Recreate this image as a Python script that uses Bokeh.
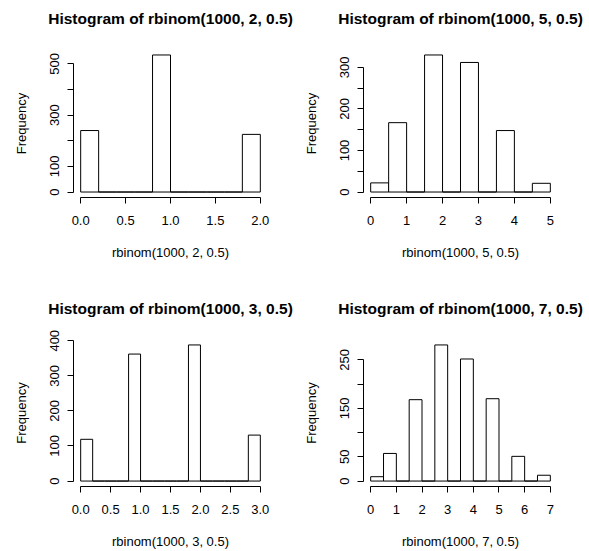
from bokeh.plotting import figure
from bokeh.layouts import gridplot
from bokeh.models import Range1d, FixedTicker, Title
from bokeh.embed import file_html
from bokeh.resources import INLINE

FONT = "Liberation Sans"

# ---- data: histogram bin edges and counts ----
edges_n2 = [0.0, 0.2, 0.4, 0.6, 0.8, 1.0, 1.2, 1.4, 1.6, 1.8, 2.0]
counts_n2 = [240, 0, 0, 0, 535, 0, 0, 0, 0, 225]

edges_n5 = [0.0, 0.5, 1.0, 1.5, 2.0, 2.5, 3.0, 3.5, 4.0, 4.5, 5.0]
counts_n5 = [22, 167, 0, 330, 0, 312, 0, 148, 0, 21]

edges_n3 = [0.0, 0.2, 0.4, 0.6, 0.8, 1.0, 1.2, 1.4, 1.6, 1.8, 2.0,
            2.2, 2.4, 2.6, 2.8, 3.0]
counts_n3 = [119, 0, 0, 0, 362, 0, 0, 0, 0, 388, 0, 0, 0, 0, 131]

edges_n7 = [0.0, 0.5, 1.0, 1.5, 2.0, 2.5, 3.0, 3.5, 4.0, 4.5, 5.0,
            5.5, 6.0, 6.5, 7.0]
counts_n7 = [9, 57, 0, 168, 0, 281, 0, 252, 0, 170, 0, 51, 0, 12]

# ---- tick values and labels ----
xticks_n2 = [0.0, 0.5, 1.0, 1.5, 2.0]
xlabels_n2 = ["0.0", "0.5", "1.0", "1.5", "2.0"]
yticks_n2 = [0, 100, 200, 300, 400, 500]
ylabels_n2 = ["0", "100", "", "300", "", "500"]

xticks_n5 = [0, 1, 2, 3, 4, 5]
xlabels_n5 = ["0", "1", "2", "3", "4", "5"]
yticks_n5 = [0, 50, 100, 150, 200, 250, 300]
ylabels_n5 = ["0", "", "100", "", "200", "", "300"]

xticks_n3 = [0.0, 0.5, 1.0, 1.5, 2.0, 2.5, 3.0]
xlabels_n3 = ["0.0", "0.5", "1.0", "1.5", "2.0", "2.5", "3.0"]
yticks_n3 = [0, 100, 200, 300, 400]
ylabels_n3 = ["0", "100", "200", "300", "400"]

xticks_n7 = [0, 1, 2, 3, 4, 5, 6, 7]
xlabels_n7 = ["0", "1", "2", "3", "4", "5", "6", "7"]
yticks_n7 = [0, 50, 100, 150, 200, 250]
ylabels_n7 = ["0", "50", "", "150", "", "250"]

titles = ["Histogram of rbinom(1000, 2, 0.5)", "Histogram of rbinom(1000, 5, 0.5)",
          "Histogram of rbinom(1000, 3, 0.5)", "Histogram of rbinom(1000, 7, 0.5)"]
xlabs = ["rbinom(1000, 2, 0.5)", "rbinom(1000, 5, 0.5)",
         "rbinom(1000, 3, 0.5)", "rbinom(1000, 7, 0.5)"]


def panel(edges, counts, xt, xl, yt, yl, title, xlab, width, height,
          bl, br, bt, bb):
    xmin, xmax = edges[0], edges[-1]
    dx = (xmax - xmin) * 0.04
    ymax = max(counts)
    p = figure(width=width, height=height, output_backend="svg",
               toolbar_location=None, tools="", title=None,
               x_range=Range1d(xmin - dx, xmax + dx),
               y_range=Range1d(-0.04 * ymax, 1.04 * ymax),
               min_border_left=bl, min_border_right=br,
               min_border_top=bt, min_border_bottom=bb)
    # spacer (closest to the frame), then the real title above it
    p.add_layout(Title(text=" ", text_font_size="1px", standoff=20), "above")
    p.add_layout(Title(text=title, align="center", text_font=FONT,
                       text_font_size="15.5px", text_font_style="bold",
                       text_color="#000000", standoff=0), "above")
    p.outline_line_color = None
    p.xgrid.visible = False
    p.ygrid.visible = False
    p.background_fill_color = "white"
    p.border_fill_color = "white"

    p.quad(left=edges[:-1], right=edges[1:], bottom=[0] * len(counts), top=counts,
           fill_color="white", line_color="black", line_width=1)

    for ax, ticks, labels, lab, so, lso in (
            (p.xaxis[0], xt, xl, xlab, 12, 17),
            (p.yaxis[0], yt, yl, "Frequency", 8, 19)):
        ax.ticker = FixedTicker(ticks=ticks)
        ax.major_label_overrides = dict(zip(ticks, labels))
        ax.bounds = (ticks[0], ticks[-1])
        ax.major_tick_out = 6
        ax.major_tick_in = 0
        ax.minor_tick_out = 0
        ax.minor_tick_in = 0
        ax.axis_line_color = "black"
        ax.major_tick_line_color = "black"
        ax.major_label_text_font = FONT
        ax.major_label_text_font_size = "13px"
        ax.major_label_text_color = "#000000"
        ax.major_label_standoff = so
        ax.axis_label = lab
        ax.axis_label_text_font = FONT
        ax.axis_label_text_font_size = "13px"
        ax.axis_label_text_font_style = "normal"
        ax.axis_label_text_color = "#000000"
        ax.axis_label_standoff = lso
    p.yaxis[0].major_label_orientation = "vertical"
    return p


p1 = panel(edges_n2, counts_n2, xticks_n2, xlabels_n2, yticks_n2, ylabels_n2,
           titles[0], xlabs[0], 294, 290, 73, 27, 49, 93)
p2 = panel(edges_n5, counts_n5, xticks_n5, xlabels_n5, yticks_n5, ylabels_n5,
           titles[1], xlabs[1], 295, 290, 69, 32, 49, 93)
p3 = panel(edges_n3, counts_n3, xticks_n3, xlabels_n3, yticks_n3, ylabels_n3,
           titles[2], xlabs[2], 294, 261, 73, 27, 49, 65)
p4 = panel(edges_n7, counts_n7, xticks_n7, xlabels_n7, yticks_n7, ylabels_n7,
           titles[3], xlabs[3], 295, 261, 69, 32, 49, 65)

grid = gridplot([[p1, p2], [p3, p4]], toolbar_location=None)

open("out.html", "w").write(file_html(grid, INLINE))
